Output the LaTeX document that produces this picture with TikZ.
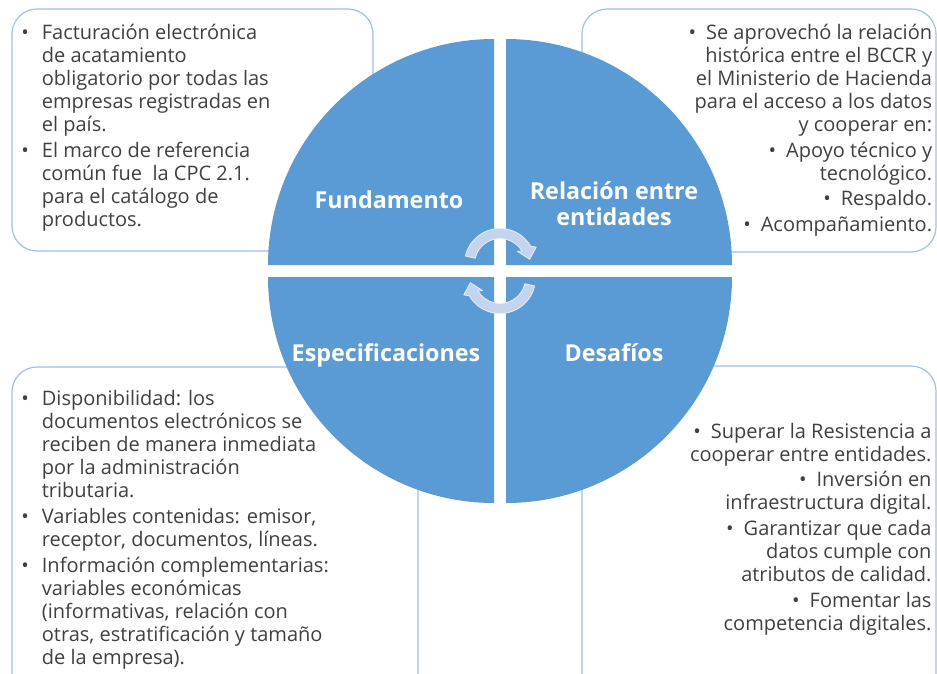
\documentclass[tikz,border=0pt]{standalone}
\usepackage{fontspec}
\setmainfont{Open Sans}
\usetikzlibrary{calc}
\definecolor{qblue}{HTML}{5B9BD5}
\definecolor{boxline}{HTML}{9DC3E6}
\definecolor{txt}{HTML}{404040}
\definecolor{arrowc}{HTML}{C3D5EE}
\newcommand\bodyfont{\fontsize{20}{23}\selectfont}
\newcommand\titlefont{\fontsize{23.3}{26}\selectfont\bfseries}
\newcommand\bul{\llap{\textbullet\hspace{13pt}}}
\newcommand\rbul{\textbullet\hspace{10pt}}
\tikzset{
  infobox/.style={draw=boxline, fill=white, line width=1.2pt, rounded corners=25pt},
  quad/.style={fill=qblue},
  body/.style={inner sep=0pt, text=txt, font=\bodyfont},
  title/.style={inner sep=0pt, text=white, font=\titlefont, align=center},
  cyc/.style={fill=arrowc, draw=white!60!arrowc, line width=0.8pt, line join=round}
}
\begin{document}
\begin{tikzpicture}[x=1pt,y=1pt]
\clip (0,0) rectangle (937,-673);
\fill[white] (0,0) rectangle (937,-673);
% boxes
\draw[infobox] (12,-9) rectangle (373,-251);
\draw[infobox] (582,-9) rectangle (936,-252);
\draw[infobox] (12,-367) rectangle (418,-700);
\draw[infobox] (582,-366) rectangle (936,-700);
% quadrants
\fill[quad] (494,-265) -- ++(0,226) arc (90:180:226) -- cycle;
\fill[quad] (506,-265) -- ++(226,0) arc (0:90:226) -- cycle;
\fill[quad] (494,-277) -- ++(-226,0) arc (180:270:226) -- cycle;
\fill[quad] (506,-277) -- ++(0,-226) arc (270:360:226) -- cycle;
% cycle arrows
\coordinate (A) at (500,-264);
\coordinate (B) at (500,-278);
\filldraw[cyc] ($(A)+(167:35.5)$) arc (167:30:35.5) -- ($(A)+(25:40)$) -- ($(A)+(9:30)$) -- ($(A)+(36:21.5)$) -- ($(A)+(30:25.5)$) arc (30:167:25.5) -- cycle;
\filldraw[cyc] ($(B)+(347:35.5)$) arc (347:210:35.5) -- ($(B)+(205:40)$) -- ($(B)+(189:30)$) -- ($(B)+(216:21.5)$) -- ($(B)+(210:25.5)$) arc (210:347:25.5) -- cycle;
% titles
\node[title, anchor=base] (t1) at (389,-208) {Fundamento};
\node[title, anchor=base] (t2) at (614,-225) {Relación entre\\entidades};
\node[title, anchor=base] (t3) at (386,-361) {Especificaciones};
\node[title, anchor=base] (t4) at (614,-361) {Desafíos};
% texts (base anchor = baseline of last line)
\node[body, anchor=base west, align=left] (txtl) at (41.7,-226.7) {\bul Facturación electrónica\\ de acatamiento\\ obligatorio por todas las\\ empresas registradas en\\ el país.\\[3.3pt] \bul El marco de referencia\\ común fue\ \ la CPC 2.1.\\ para el catálogo de\\ productos.};
\node[body, anchor=base east, align=right] (txtr) at (932.3,-231.7) {\rbul Se aprovechó la relación\\ histórica entre el BCCR y\\ el Ministerio de Hacienda\\ para el acceso a los datos\\ y cooperar en:\\[2.8pt] \rbul Apoyo técnico y\\ tecnológico.\\[2.8pt] \rbul Respaldo.\\[2.8pt] \rbul Acompañamiento.};
\node[body, anchor=base west, align=left] (txbl) at (41.7,-664) {\bul Disponibilidad: los\\ documentos electrónicos se\\ reciben de manera inmediata\\ por la administración\\ tributaria.\\[3pt] \bul Variables contenidas: emisor,\\ receptor, documentos, líneas.\\[3pt] \bul Información complementarias:\\ variables económicas\\ (informativas, relación con\\ otras, estratificación y tamaño\\ de la empresa).};
\node[body, anchor=base east, align=right] (txbr) at (931.7,-630) {\rbul Superar la Resistencia a\\ cooperar entre entidades.\\[2.6pt] \rbul Inversión en\\ infraestructura digital.\\[2.6pt] \rbul Garantizar que cada\\ datos cumple con\\ atributos de calidad.\\[2.6pt] \rbul Fomentar las\\ competencia digitales.};
\end{tikzpicture}
\end{document}
